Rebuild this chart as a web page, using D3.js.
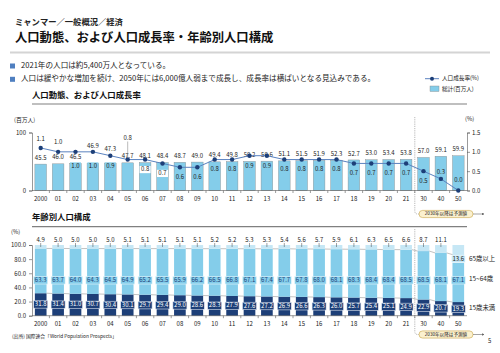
<!DOCTYPE html>
<html>
<head>
<meta charset="utf-8">
<script src="https://cdn.jsdelivr.net/npm/d3@7"></script>
<style>
  body { margin: 0; background: #fff; }
  svg { display: block; font-family: "Noto Sans CJK JP", sans-serif; }
</style>
</head>
<body>
<div id="chart"></div>
<script>
// data
const years = ["2000", "01", "02", "03", "04", "05", "06", "07", "08", "09", "10",
  "11", "12", "13", "14", "15", "16", "17", "18", "19", "20", "21", "30", "40", "50"];

const totalPop = [45.5, 46.0, 46.5, 46.9, 47.3, 47.7, 48.1, 48.4, 48.7, 49.0, 49.4,
  49.8, 50.2, 50.6, 51.1, 51.5, 51.9, 52.3, 52.7, 53.0, 53.4, 53.8, 57.0, 59.1, 59.9];

const growthRate = [1.1, 1.0, 1.0, 1.0, 0.9, 0.8, 0.8, 0.7, 0.6, 0.6, 0.8,
  0.8, 0.9, 0.9, 0.8, 0.8, 0.8, 0.8, 0.7, 0.7, 0.7, 0.7, 0.5, 0.3, 0.0];

const ageUnder15 = [31.8, 31.4, 31.0, 30.7, 30.4, 30.1, 29.7, 29.4, 29.0, 28.6, 28.3,
  27.9, 27.6, 27.2, 26.9, 26.6, 26.3, 26.0, 25.7, 25.4, 25.1, 24.9, 22.9, 20.7, 19.3];
const age15to64 = [63.3, 63.7, 64.0, 64.3, 64.5, 64.9, 65.2, 65.5, 65.9, 66.2, 66.5,
  66.8, 67.1, 67.4, 67.7, 67.8, 68.0, 68.1, 68.3, 68.4, 68.4, 68.5, 68.5, 68.1, 67.1];
const age65plus = [4.9, 5.0, 5.0, 5.0, 5.0, 5.1, 5.1, 5.1, 5.1, 5.1, 5.2,
  5.2, 5.3, 5.3, 5.4, 5.6, 5.7, 5.9, 6.1, 6.3, 6.5, 6.6, 8.7, 11.1, 13.6];

const ageGroups = ["15歳未満", "15~64歳", "65歳以上"];
const popTicks = [0, 100];
const rateTicks = [0, 0.5, 1.0, 1.5];
const shareTicks = [0, 20, 40, 60, 80, 100];

const navy = "#1d3f78";
const barBlue = "#84cdea";
const paleBlue = "#c6e7f5";
const lineBlue = "#5a82bf";
const txt = "#222";

const svg = d3.select("#chart").append("svg")
    .attr("width", 500)
    .attr("height", 353);

// arrow marker
svg.append("defs").append("marker")
    .attr("id", "arr")
    .attr("viewBox", "0 0 6 6")
    .attr("refX", 5).attr("refY", 3)
    .attr("markerWidth", 4).attr("markerHeight", 4)
    .attr("orient", "auto")
  .append("path")
    .attr("d", "M0,0 L6,3 L0,6 Z")
    .attr("fill", "#666");

// page header
svg.append("text")
    .attr("x", 15).attr("y", 23)
    .attr("dominant-baseline", "middle")
    .attr("font-size", 8.3).attr("font-weight", "bold")
    .attr("fill", txt)
    .text("ミャンマー／一般概況／経済");

svg.append("text")
    .attr("x", 15).attr("y", 39)
    .attr("dominant-baseline", "middle")
    .attr("font-size", 12.3).attr("font-weight", "bold")
    .attr("fill", "#111")
    .text("人口動態、および人口成長率・年齢別人口構成");

svg.append("line")
    .attr("x1", 10).attr("x2", 490)
    .attr("y1", 52.5).attr("y2", 52.5)
    .attr("stroke", "#d4d4d4").attr("stroke-width", 2);

// bullets
const bullets = ["2021年の人口は約5,400万人となっている。",
  "人口は緩やかな増加を続け、2050年には6,000億人弱まで成長し、成長率は横ばいとなる見込みである。"];
bullets.forEach((b, i) => {
  svg.append("rect")
      .attr("x", 10).attr("y", 63.5 + i * 13.3)
      .attr("width", 5).attr("height", 5)
      .attr("fill", "#4f7fc0");
  svg.append("text")
      .attr("x", 21).attr("y", 66 + i * 13.3)
      .attr("dominant-baseline", "middle")
      .attr("font-size", 7.6)
      .attr("fill", txt)
      .text(b);
});

// legend for the top chart
svg.append("line")
    .attr("x1", 425).attr("x2", 439).attr("y1", 78.7).attr("y2", 78.7)
    .attr("stroke", lineBlue).attr("stroke-width", 1);
svg.append("circle")
    .attr("cx", 432).attr("cy", 78.7).attr("r", 2)
    .attr("fill", navy);
svg.append("text")
    .attr("x", 442).attr("y", 78.7)
    .attr("dominant-baseline", "middle")
    .attr("font-size", 5.6).attr("fill", txt)
    .text("人口成長率(%)");
svg.append("rect")
    .attr("x", 430).attr("y", 86).attr("width", 9).attr("height", 5.5)
    .attr("fill", barBlue).attr("stroke", "#888").attr("stroke-width", 0.4);
svg.append("text")
    .attr("x", 442).attr("y", 89)
    .attr("dominant-baseline", "middle")
    .attr("font-size", 5.6).attr("fill", txt)
    .text("総計(百万人)");

// shared x scale
const x = d3.scaleBand()
    .domain(years)
    .range([32, 467])
    .paddingInner(0.33)
    .paddingOuter(0.165);
const bw = x.bandwidth();
const cx = d => x(d) + bw / 2;
const sepX = x("30") - (x.step() - bw) / 2;

function subHeader(label, y, lineY) {
  svg.append("text")
      .attr("x", 32).attr("y", y)
      .attr("dominant-baseline", "middle")
      .attr("font-size", 8.4).attr("font-weight", "bold")
      .attr("fill", "#111")
      .text(label);
  svg.append("line")
      .attr("x1", 32).attr("x2", 467)
      .attr("y1", lineY).attr("y2", lineY)
      .attr("stroke", "#808080").attr("stroke-width", 1.2);
}

function forecastNote(yTop, yBox) {
  svg.append("path")
      .attr("d", `M${sepX},${yTop} V${yBox - 3} Q${sepX},${yBox} ${sepX + 3},${yBox} H419`)
      .attr("fill", "none")
      .attr("stroke", "#999").attr("stroke-width", 0.7)
      .attr("stroke-dasharray", "1.2,1");
  svg.append("rect")
      .attr("x", 419).attr("y", yBox - 3.6)
      .attr("width", 54).attr("height", 7.2)
      .attr("rx", 3.6)
      .attr("fill", "#fbf1cf").attr("stroke", "#c9a445").attr("stroke-width", 0.6);
  svg.append("text")
      .attr("x", 446).attr("y", yBox)
      .attr("text-anchor", "middle").attr("dominant-baseline", "middle")
      .attr("font-size", 4.6).attr("fill", txt)
      .text("2030年以降は予測値");
  svg.append("line")
      .attr("x1", 473).attr("x2", 484)
      .attr("y1", yBox).attr("y2", yBox)
      .attr("stroke", "#666").attr("stroke-width", 0.6)
      .attr("marker-end", "url(#arr)");
}

function styleAxis(g) {
  g.selectAll("path, line").attr("stroke", "#555").attr("stroke-width", 0.6);
  g.selectAll("text").attr("font-size", 6).attr("fill", txt)
    .attr("font-family", "\"Noto Sans CJK JP\", sans-serif");
}

function xAxisAt(y) {
  const g = svg.append("g").attr("transform", `translate(0, ${y})`);
  g.append("line")
      .attr("x1", 32).attr("x2", 467)
      .attr("stroke", "#555").attr("stroke-width", 0.6);
  g.selectAll(".tk")
    .data(years.slice(1))
    .join("line")
      .attr("x1", d => x(d) - (x.step() - bw) / 2)
      .attr("x2", d => x(d) - (x.step() - bw) / 2)
      .attr("y2", 2.5)
      .attr("stroke", "#555").attr("stroke-width", 0.6);
  g.selectAll(".lb")
    .data(years)
    .join("text")
      .attr("x", d => cx(d))
      .attr("y", 8.5)
      .attr("text-anchor", "middle").attr("dominant-baseline", "middle")
      .attr("font-size", 6).attr("fill", txt)
      .text(d => d);
}

// ---------------- top chart ----------------
subHeader("人口動態、および人口成長率", 96, 104);

const yPop = d3.scaleLinear().domain([0, 100]).range([190.5, 132.5]);
const yRate = d3.scaleLinear().domain([0, 1.5]).range([190.5, 132.5]);

svg.append("text")
    .attr("x", 14).attr("y", 120)
    .attr("dominant-baseline", "middle")
    .attr("font-size", 5.8).attr("fill", txt)
    .text("(百万人)");
svg.append("text")
    .attr("x", 465).attr("y", 119.5)
    .attr("dominant-baseline", "middle")
    .attr("font-size", 5.8).attr("fill", txt)
    .text("(%)");

forecastNote(117, 214);

svg.append("g")
    .attr("transform", "translate(32, 0)")
    .call(d3.axisLeft(yPop).tickValues(popTicks).tickSize(3).tickPadding(3))
    .call(styleAxis);

svg.append("g")
    .attr("transform", "translate(467, 0)")
    .call(d3.axisRight(yRate).tickValues(rateTicks).tickFormat(d3.format(".1f")).tickSize(3).tickPadding(2))
    .call(styleAxis);

svg.append("g")
  .selectAll("rect")
  .data(totalPop)
  .join("rect")
    .attr("x", (d, i) => x(years[i]))
    .attr("y", d => yPop(d))
    .attr("width", bw)
    .attr("height", d => yPop(0) - yPop(d))
    .attr("fill", barBlue)
    .attr("stroke", "#8a8a8a").attr("stroke-width", 0.4);

xAxisAt(190.5);

// total labels above the bars (03 and 04 were lifted above the line)
const popLift = {3: 11, 4: 8};
svg.append("g")
  .selectAll("text")
  .data(totalPop)
  .join("text")
    .attr("x", (d, i) => cx(years[i]))
    .attr("y", (d, i) => yPop(d) - 6 - (popLift[i] || 0))
    .attr("text-anchor", "middle").attr("dominant-baseline", "middle")
    .attr("font-size", 6).attr("fill", txt)
    .text(d => d.toFixed(1));

// growth line
const line = d3.line()
    .x((d, i) => cx(years[i]))
    .y(d => yRate(d));

svg.append("path")
    .datum(growthRate)
    .attr("d", line)
    .attr("fill", "none")
    .attr("stroke", lineBlue).attr("stroke-width", 1);

svg.append("g")
  .selectAll("circle")
  .data(growthRate)
  .join("circle")
    .attr("cx", (d, i) => cx(years[i]))
    .attr("cy", d => yRate(d))
    .attr("r", 2.2)
    .attr("fill", navy);

// growth labels: most sit inside the bar, a few above the line
const above = {0: -9, 1: -9, 23: -7, 24: -10};
const rateY = (d, i) => {
  if (i === 5) return 138.5;
  if (above[i] !== undefined) return yRate(d) + above[i];
  return Math.max(yRate(d) + 10, 166);
};
const rateLab = svg.append("g")
  .selectAll("g")
  .data(growthRate)
  .join("g")
    .attr("transform", (d, i) => `translate(${cx(years[i])}, ${rateY(d, i)})`);

rateLab.filter((d, i) => above[i] === undefined && i !== 5)
  .append("rect")
    .attr("x", -5.5).attr("y", -3.6)
    .attr("width", 11).attr("height", 7.2)
    .attr("fill", (d, i) => (years[i] === "03" || years[i] === "04") ? "#fff" : barBlue);
rateLab.append("text")
    .attr("text-anchor", "middle").attr("dominant-baseline", "middle")
    .attr("font-size", 6).attr("fill", txt)
    .text(d => d.toFixed(1));

// leader line for the 2005 label
svg.append("line")
    .attr("x1", cx("05")).attr("x2", cx("05"))
    .attr("y1", 141.5).attr("y2", yRate(growthRate[5]) - 2)
    .attr("stroke", "#777").attr("stroke-width", 0.5);

// ---------------- bottom chart ----------------
subHeader("年齢別人口構成", 218, 226.7);

const yShare = d3.scaleLinear().domain([0, 100]).range([315.7, 245]);

svg.append("text")
    .attr("x", 11).attr("y", 232)
    .attr("dominant-baseline", "middle")
    .attr("font-size", 5.8).attr("fill", txt)
    .text("(%)");

forecastNote(229, 334.5);

svg.append("g")
    .attr("transform", "translate(32, 0)")
    .call(d3.axisLeft(yShare).tickValues(shareTicks).tickFormat(d3.format(".1f")).tickSize(3).tickPadding(3))
    .call(styleAxis);

const rows = years.map((y, i) => ({
  year: y,
  parts: [ageUnder15[i], age15to64[i], age65plus[i]]
}));
const stack = d3.stack()
    .keys([0, 1, 2])
    .value((d, k) => d.parts[k]);
const series = stack(rows);
const fills = [navy, barBlue, paleBlue];

svg.append("g")
  .selectAll("g")
  .data(series)
  .join("g")
    .attr("fill", (s, k) => fills[k])
  .selectAll("rect")
  .data(s => s)
  .join("rect")
    .attr("x", d => x(d.data.year))
    .attr("y", d => yShare(Math.min(d[1], 100)))
    .attr("width", bw)
    .attr("height", d => yShare(d[0]) - yShare(Math.min(d[1], 100)));

// series lines joining the segment tops
[0, 1].forEach(k => {
  const s = series[k];
  svg.append("g")
    .selectAll("line")
    .data(s.slice(0, -1))
    .join("line")
      .attr("x1", d => x(d.data.year) + bw)
      .attr("y1", d => yShare(d[1]))
      .attr("x2", (d, i) => x(s[i + 1].data.year))
      .attr("y2", (d, i) => yShare(s[i + 1][1]))
      .attr("stroke", "#999").attr("stroke-width", 0.6);
});

xAxisAt(315.7);

// 65+ labels above the bars, the last one boxed beside its segment
const topLab = svg.append("g")
  .selectAll("g")
  .data(age65plus)
  .join("g")
    .attr("transform", (d, i) => `translate(${cx(years[i])}, 0)`);
topLab.filter((d, i) => i < years.length - 1)
  .append("text")
    .attr("y", 240)
    .attr("text-anchor", "middle").attr("dominant-baseline", "middle")
    .attr("font-size", 6).attr("fill", txt)
    .text(d => d.toFixed(1));
topLab.filter((d, i) => i < years.length - 1)
  .append("line")
    .attr("y1", 243).attr("y2", 247)
    .attr("stroke", "#444").attr("stroke-width", 0.5);
const last = topLab.filter((d, i) => i === years.length - 1);
last.append("rect")
    .attr("x", -7).attr("y", 255.5)
    .attr("width", 14).attr("height", 7.2)
    .attr("fill", paleBlue).attr("stroke", "#fff").attr("stroke-width", 0.6);
last.append("text")
    .attr("y", 259.2)
    .attr("text-anchor", "middle").attr("dominant-baseline", "middle")
    .attr("font-size", 6).attr("fill", txt)
    .text(d => d.toFixed(1));

// 15-64 labels on one row
const midLab = svg.append("g")
  .selectAll("g")
  .data(age15to64)
  .join("g")
    .attr("transform", (d, i) => `translate(${cx(years[i])}, ${yShare(50)})`);
midLab.append("rect")
    .attr("x", -7).attr("y", -3.7)
    .attr("width", 14).attr("height", 7.4)
    .attr("fill", barBlue).attr("stroke", "#e6f5fb").attr("stroke-width", 0.6);
midLab.append("text")
    .attr("text-anchor", "middle").attr("dominant-baseline", "middle")
    .attr("font-size", 6).attr("fill", navy)
    .text(d => d.toFixed(1));

// under-15 labels in the middle of the segment
const lowLab = svg.append("g")
  .selectAll("g")
  .data(ageUnder15)
  .join("g")
    .attr("transform", (d, i) => `translate(${cx(years[i])}, ${yShare(d / 2)})`);
lowLab.append("rect")
    .attr("x", -7).attr("y", -3.7)
    .attr("width", 14).attr("height", 7.4)
    .attr("fill", navy).attr("stroke", "#dfe6f0").attr("stroke-width", 0.6);
lowLab.append("text")
    .attr("text-anchor", "middle").attr("dominant-baseline", "middle")
    .attr("font-size", 6).attr("fill", "#fff")
    .text(d => d.toFixed(1));

// group names at the right
const groupY = [308.3, 279, 259.2];
ageGroups.forEach((g, k) => {
  svg.append("text")
      .attr("x", 469).attr("y", groupY[k])
      .attr("dominant-baseline", "middle")
      .attr("font-size", 6.4).attr("fill", txt)
      .text(g);
});

// source and page number
svg.append("text")
    .attr("x", 12).attr("y", 337)
    .attr("dominant-baseline", "middle")
    .attr("font-size", 4.8).attr("fill", txt)
    .text("(出所) 国際連合「World Population Prospects」");
svg.append("text")
    .attr("x", 488).attr("y", 341.5)
    .attr("dominant-baseline", "middle")
    .attr("font-size", 6).attr("fill", txt)
    .text("5");
</script>
</body>
</html>
